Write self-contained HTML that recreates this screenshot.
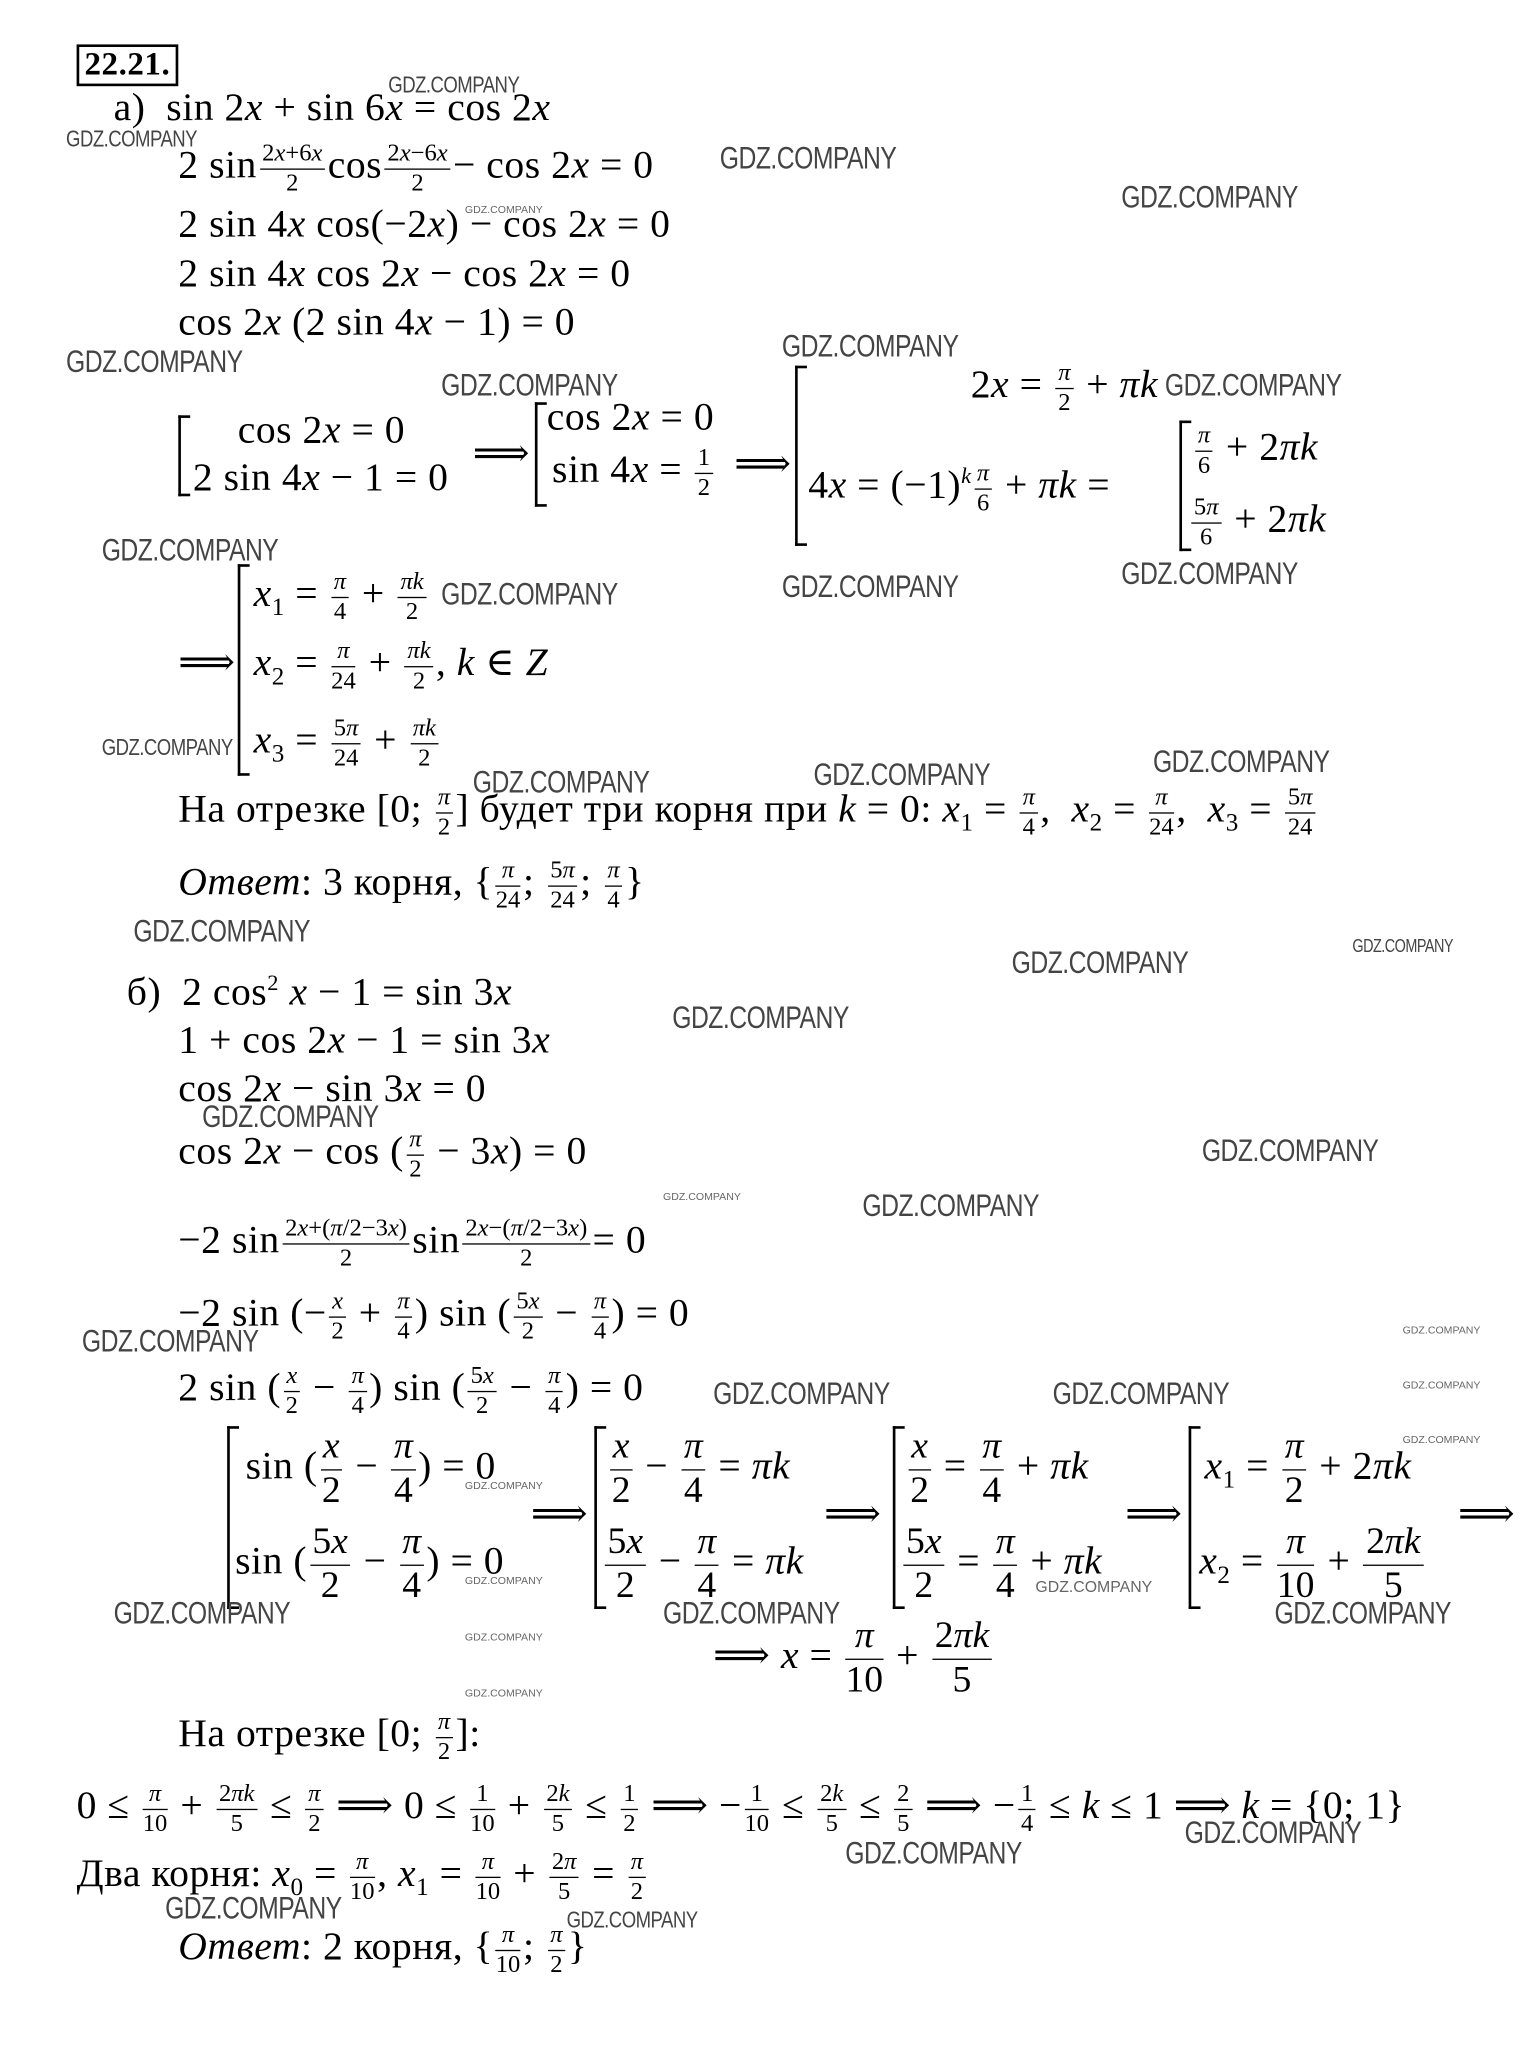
<!DOCTYPE html>
<html><head><meta charset="utf-8">
<style>
html,body{margin:0;padding:0;background:#fff;}
body{width:1532px;height:2047px;overflow:hidden;position:relative;}
#c{position:absolute;left:0;top:0;width:1160px;height:1560px;transform:scale(1.3207,1.306);transform-origin:0 0;font-family:"Liberation Serif","DejaVu Serif",serif;font-size:30px;color:#000;}
.l{position:absolute;white-space:nowrap;line-height:30px;letter-spacing:0.4px;}
i{font-style:italic;}
sub,sup{line-height:0;}
.f{display:inline-flex;flex-direction:column;vertical-align:middle;text-align:center;font-size:0.62em;line-height:1.15;margin:-40px 2px;letter-spacing:0;}
.f>span:first-child{border-bottom:1.5px solid #000;padding:0 2px;}
.F{font-size:0.95em;}
.w{position:absolute;font-family:"Liberation Sans Narrow","Liberation Sans",sans-serif;font-size:24px;color:#444;transform:scaleX(0.78);transform-origin:0 0;white-space:nowrap;letter-spacing:-0.5px;margin-left:-8px;}
.ws{position:absolute;font-family:"Liberation Sans",sans-serif;font-size:8px;color:#666;white-space:nowrap;}
.br{position:absolute;border:2px solid #000;border-right:none;width:7px;}
</style></head><body><div id="c">
<div class="l" style="left:58px;top:34px;border:2px solid #000;padding:0 4px;font-weight:bold;font-size:25px;line-height:28px;">22.21.</div>
<div class="l" style="left:86px;top:68px;">а)&nbsp; sin 2<i>x</i> + sin 6<i>x</i> = cos 2<i>x</i></div>
<div class="l" style="left:135px;top:112px;">2 sin<span class="f"><span>2<i>x</i>+6<i>x</i></span><span>2</span></span>cos<span class="f"><span>2<i>x</i>−6<i>x</i></span><span>2</span></span>− cos 2<i>x</i> = 0</div>
<div class="l" style="left:135px;top:157px;">2 sin 4<i>x</i> cos(−2<i>x</i>) − cos 2<i>x</i> = 0</div>
<div class="l" style="left:135px;top:195px;">2 sin 4<i>x</i> cos 2<i>x</i> − cos 2<i>x</i> = 0</div>
<div class="l" style="left:135px;top:232px;">cos 2<i>x</i> (2 sin 4<i>x</i> − 1) = 0</div>

<div class="br" style="left:135px;top:318px;height:58px;"></div>
<div class="l" style="left:180px;top:315px;">cos 2<i>x</i> = 0</div>
<div class="l" style="left:146px;top:351px;">2 sin 4<i>x</i> − 1 = 0</div>
<div class="l" style="left:358px;top:333px;">⟹</div>
<div class="br" style="left:405px;top:308px;height:76px;"></div>
<div class="l" style="left:414px;top:305px;">cos 2<i>x</i> = 0</div>
<div class="l" style="left:418px;top:345px;">sin 4<i>x</i> = <span class="f"><span>1</span><span>2</span></span></div>
<div class="l" style="left:556px;top:341px;">⟹</div>
<div class="br" style="left:602px;top:280px;height:134px;"></div>
<div class="l" style="left:735px;top:280px;">2<i>x</i> = <span class="f"><span><i>π</i></span><span>2</span></span> + <i>πk</i></div>
<div class="l" style="left:612px;top:357px;">4<i>x</i> = (−1)<sup style="font-size:17px"><i>k</i></sup><span class="f"><span><i>π</i></span><span>6</span></span> + <i>πk</i> =</div>
<div class="br" style="left:893px;top:322px;height:96px;"></div>
<div class="l" style="left:903px;top:328px;"><span class="f"><span><i>π</i></span><span>6</span></span> + 2<i>πk</i></div>
<div class="l" style="left:900px;top:383px;"><span class="f"><span>5<i>π</i></span><span>6</span></span> + 2<i>πk</i></div>

<div class="l" style="left:135px;top:493px;">⟹</div>
<div class="br" style="left:180px;top:432px;height:158px;"></div>
<div class="l" style="left:192px;top:440px;"><i>x</i><sub style="font-size:19px">1</sub> = <span class="f"><span><i>π</i></span><span>4</span></span> + <span class="f"><span><i>πk</i></span><span>2</span></span></div>
<div class="l" style="left:192px;top:493px;"><i>x</i><sub style="font-size:19px">2</sub> = <span class="f"><span><i>π</i></span><span>24</span></span> + <span class="f"><span><i>πk</i></span><span>2</span></span>, <i>k</i> ∈ <i>Z</i></div>
<div class="l" style="left:192px;top:552px;"><i>x</i><sub style="font-size:19px">3</sub> = <span class="f"><span>5<i>π</i></span><span>24</span></span> + <span class="f"><span><i>πk</i></span><span>2</span></span></div>
<div class="l" style="left:135px;top:605px;">На отрезке [0; <span class="f"><span><i>π</i></span><span>2</span></span>] будет три корня при <i>k</i> = 0: <i>x</i><sub style="font-size:19px">1</sub> = <span class="f"><span><i>π</i></span><span>4</span></span>, &nbsp;<i>x</i><sub style="font-size:19px">2</sub> = <span class="f"><span><i>π</i></span><span>24</span></span>, &nbsp;<i>x</i><sub style="font-size:19px">3</sub> = <span class="f"><span>5<i>π</i></span><span>24</span></span></div>
<div class="l" style="left:135px;top:661px;"><i>Ответ</i>: 3 корня, {<span class="f"><span><i>π</i></span><span>24</span></span>; <span class="f"><span>5<i>π</i></span><span>24</span></span>; <span class="f"><span><i>π</i></span><span>4</span></span>}</div>

<div class="l" style="left:96px;top:745px;">б)&nbsp; 2 cos<sup style="font-size:17px">2</sup> <i>x</i> − 1 = sin 3<i>x</i></div>
<div class="l" style="left:135px;top:782px;">1 + cos 2<i>x</i> − 1 = sin 3<i>x</i></div>
<div class="l" style="left:135px;top:819px;">cos 2<i>x</i> − sin 3<i>x</i> = 0</div>
<div class="l" style="left:135px;top:867px;">cos 2<i>x</i> − cos (<span class="f"><span><i>π</i></span><span>2</span></span> − 3<i>x</i>) = 0</div>
<div class="l" style="left:135px;top:935px;">−2 sin<span class="f"><span>2<i>x</i>+(<i>π</i>/2−3<i>x</i>)</span><span>2</span></span>sin<span class="f"><span>2<i>x</i>−(<i>π</i>/2−3<i>x</i>)</span><span>2</span></span>= 0</div>
<div class="l" style="left:135px;top:991px;">−2 sin (−<span class="f"><span><i>x</i></span><span>2</span></span> + <span class="f"><span><i>π</i></span><span>4</span></span>) sin (<span class="f"><span>5<i>x</i></span><span>2</span></span> − <span class="f"><span><i>π</i></span><span>4</span></span>) = 0</div>
<div class="l" style="left:135px;top:1048px;">2 sin (<span class="f"><span><i>x</i></span><span>2</span></span> − <span class="f"><span><i>π</i></span><span>4</span></span>) sin (<span class="f"><span>5<i>x</i></span><span>2</span></span> − <span class="f"><span><i>π</i></span><span>4</span></span>) = 0</div>

<div class="br" style="left:172px;top:1092px;height:136px;"></div>
<div class="l" style="left:186px;top:1108px;">sin (<span class="f F"><span><i>x</i></span><span>2</span></span> − <span class="f F"><span><i>π</i></span><span>4</span></span>) = 0</div>
<div class="l" style="left:178px;top:1181px;">sin (<span class="f F"><span>5<i>x</i></span><span>2</span></span> − <span class="f F"><span><i>π</i></span><span>4</span></span>) = 0</div>
<div class="l" style="left:402px;top:1145px;">⟹</div>
<div class="br" style="left:450px;top:1092px;height:136px;"></div>
<div class="l" style="left:460px;top:1108px;"><span class="f F"><span><i>x</i></span><span>2</span></span> − <span class="f F"><span><i>π</i></span><span>4</span></span> = <i>πk</i></div>
<div class="l" style="left:456px;top:1181px;"><span class="f F"><span>5<i>x</i></span><span>2</span></span> − <span class="f F"><span><i>π</i></span><span>4</span></span> = <i>πk</i></div>
<div class="l" style="left:624px;top:1145px;">⟹</div>
<div class="br" style="left:676px;top:1092px;height:136px;"></div>
<div class="l" style="left:686px;top:1108px;"><span class="f F"><span><i>x</i></span><span>2</span></span> = <span class="f F"><span><i>π</i></span><span>4</span></span> + <i>πk</i></div>
<div class="l" style="left:682px;top:1181px;"><span class="f F"><span>5<i>x</i></span><span>2</span></span> = <span class="f F"><span><i>π</i></span><span>4</span></span> + <i>πk</i></div>
<div class="l" style="left:852px;top:1145px;">⟹</div>
<div class="br" style="left:900px;top:1092px;height:136px;"></div>
<div class="l" style="left:912px;top:1108px;"><i>x</i><sub style="font-size:19px">1</sub> = <span class="f F"><span><i>π</i></span><span>2</span></span> + 2<i>πk</i></div>
<div class="l" style="left:908px;top:1181px;"><i>x</i><sub style="font-size:19px">2</sub> = <span class="f F"><span><i>π</i></span><span>10</span></span> + <span class="f F"><span>2<i>πk</i></span><span>5</span></span></div>
<div class="l" style="left:1104px;top:1145px;">⟹</div>
<div class="l" style="left:540px;top:1253px;">⟹ <i>x</i> = <span class="f F"><span><i>π</i></span><span>10</span></span> + <span class="f F"><span>2<i>πk</i></span><span>5</span></span></div>

<div class="l" style="left:135px;top:1313px;">На отрезке [0; <span class="f"><span><i>π</i></span><span>2</span></span>]:</div>
<div class="l" style="left:58px;top:1368px;">0 ≤ <span class="f"><span><i>π</i></span><span>10</span></span> + <span class="f"><span>2<i>πk</i></span><span>5</span></span> ≤ <span class="f"><span><i>π</i></span><span>2</span></span> ⟹ 0 ≤ <span class="f"><span>1</span><span>10</span></span> + <span class="f"><span>2<i>k</i></span><span>5</span></span> ≤ <span class="f"><span>1</span><span>2</span></span> ⟹ −<span class="f"><span>1</span><span>10</span></span> ≤ <span class="f"><span>2<i>k</i></span><span>5</span></span> ≤ <span class="f"><span>2</span><span>5</span></span> ⟹ −<span class="f"><span>1</span><span>4</span></span> ≤ <i>k</i> ≤ 1 ⟹ <i>k</i> = {0; 1}</div>
<div class="l" style="left:58px;top:1420px;">Два корня: <i>x</i><sub style="font-size:19px">0</sub> = <span class="f"><span><i>π</i></span><span>10</span></span>, <i>x</i><sub style="font-size:19px">1</sub> = <span class="f"><span><i>π</i></span><span>10</span></span> + <span class="f"><span>2<i>π</i></span><span>5</span></span> = <span class="f"><span><i>π</i></span><span>2</span></span></div>
<div class="l" style="left:135px;top:1476px;"><i>Ответ</i>: 2 корня, {<span class="f"><span><i>π</i></span><span>10</span></span>; <span class="f"><span><i>π</i></span><span>2</span></span>}</div>

<div class="w" style="left:302px;top:55px;font-size:18px;">GDZ.COMPANY</div>
<div class="w" style="left:58px;top:96px;font-size:18px;">GDZ.COMPANY</div>
<div class="w" style="left:553px;top:108px;">GDZ.COMPANY</div>
<div class="w" style="left:857px;top:138px;">GDZ.COMPANY</div>
<div class="w" style="left:58px;top:264px;">GDZ.COMPANY</div>
<div class="w" style="left:342px;top:282px;">GDZ.COMPANY</div>
<div class="w" style="left:600px;top:252px;">GDZ.COMPANY</div>
<div class="w" style="left:890px;top:282px;">GDZ.COMPANY</div>
<div class="w" style="left:85px;top:408px;">GDZ.COMPANY</div>
<div class="w" style="left:342px;top:442px;">GDZ.COMPANY</div>
<div class="w" style="left:600px;top:436px;">GDZ.COMPANY</div>
<div class="w" style="left:857px;top:426px;">GDZ.COMPANY</div>
<div class="w" style="left:85px;top:562px;font-size:18px;">GDZ.COMPANY</div>
<div class="w" style="left:366px;top:586px;">GDZ.COMPANY</div>
<div class="w" style="left:624px;top:580px;">GDZ.COMPANY</div>
<div class="w" style="left:881px;top:570px;">GDZ.COMPANY</div>
<div class="w" style="left:109px;top:700px;">GDZ.COMPANY</div>
<div class="w" style="left:1032px;top:716px;font-size:14px;">GDZ.COMPANY</div>
<div class="w" style="left:774px;top:724px;">GDZ.COMPANY</div>
<div class="w" style="left:517px;top:766px;">GDZ.COMPANY</div>
<div class="w" style="left:161px;top:842px;">GDZ.COMPANY</div>
<div class="w" style="left:918px;top:868px;">GDZ.COMPANY</div>
<div class="w" style="left:661px;top:910px;">GDZ.COMPANY</div>
<div class="w" style="left:70px;top:1014px;">GDZ.COMPANY</div>
<div class="w" style="left:548px;top:1054px;">GDZ.COMPANY</div>
<div class="w" style="left:805px;top:1054px;">GDZ.COMPANY</div>
<div class="w" style="left:94px;top:1222px;">GDZ.COMPANY</div>
<div class="w" style="left:510px;top:1222px;">GDZ.COMPANY</div>
<div class="w" style="left:973px;top:1222px;">GDZ.COMPANY</div>
<div class="w" style="left:648px;top:1406px;">GDZ.COMPANY</div>
<div class="w" style="left:905px;top:1390px;">GDZ.COMPANY</div>
<div class="w" style="left:133px;top:1448px;">GDZ.COMPANY</div>
<div class="w" style="left:437px;top:1460px;font-size:18px;">GDZ.COMPANY</div>
<div class="ws" style="left:352px;top:156px;">GDZ.COMPANY</div>
<div class="ws" style="left:502px;top:912px;">GDZ.COMPANY</div>
<div class="ws" style="left:1062px;top:1014px;">GDZ.COMPANY</div>
<div class="ws" style="left:1062px;top:1056px;">GDZ.COMPANY</div>
<div class="ws" style="left:1062px;top:1098px;">GDZ.COMPANY</div>
<div class="ws" style="left:352px;top:1133px;">GDZ.COMPANY</div>
<div class="ws" style="left:352px;top:1206px;">GDZ.COMPANY</div>
<div class="ws" style="left:784px;top:1208px;font-size:12px;">GDZ.COMPANY</div>
<div class="ws" style="left:352px;top:1249px;">GDZ.COMPANY</div>
<div class="ws" style="left:352px;top:1292px;">GDZ.COMPANY</div>
</div></body></html>
